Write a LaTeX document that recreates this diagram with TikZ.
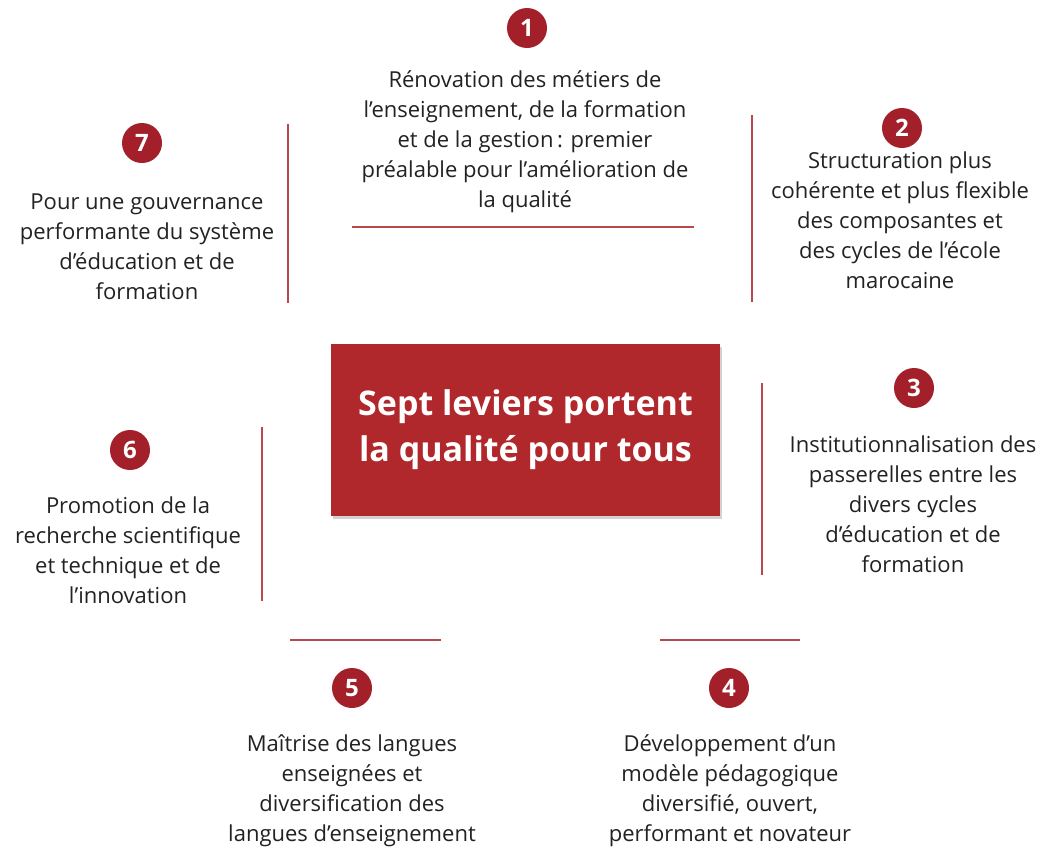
\documentclass[tikz,border=0pt]{standalone}
\usepackage{fontspec}
\setmainfont{Open Sans}
\usetikzlibrary{shadows}
\definecolor{lred}{HTML}{B0282C}
\definecolor{cred}{HTML}{A3202A}
\definecolor{linered}{HTML}{B8484C}
\definecolor{txt}{HTML}{222222}
\tikzset{
  num/.style={circle,fill=cred,text=white,minimum size=40pt,inner sep=0pt,font=\fontsize{24}{24}\selectfont\bfseries},
  lever/.style={align=center,text=txt,inner sep=0pt,font=\fontsize{22}{30}\selectfont},
  sep/.style={draw=linered,line width=1.6pt},
  core/.style={fill=lred,text=white,minimum width=389pt,minimum height=172pt,align=center,
    font=\fontsize{34}{46}\selectfont\bfseries,drop shadow={opacity=0.35,shadow xshift=2pt,shadow yshift=-3pt}}
}
\begin{document}
\begin{tikzpicture}[x=1pt,y=-1pt]
\useasboundingbox (0,0) rectangle (1048,849);
\fill[white] (0,0) rectangle (1048,849);
\node[core] (c) at (525.5,430) {Sept leviers portent\\la qualité pour tous};

\node[num] (n1) at (527,28) {1};
\node[lever] (t1) at (525,142) {Rénovation des métiers de\\l’enseignement, de la formation\\et de la gestion\,: premier\\préalable pour l’amélioration de\\la qualité};
\draw[sep] (352,227) coordinate (s1a) -- (694,227) coordinate (s1b);

\node[num] (n2) at (902,128) {2};
\node[lever] (t2) at (900,220) {Structuration plus\\cohérente et plus flexible\\des composantes et\\des cycles de l’école\\marocaine};
\draw[sep] (752,115) coordinate (s2a) -- (752,302) coordinate (s2b);

\node[num] (n3) at (914,388) {3};
\node[lever] (t3) at (913,504) {Institutionnalisation des\\passerelles entre les\\divers cycles\\d’éducation et de\\formation};
\draw[sep] (762,383) coordinate (s3a) -- (762,575) coordinate (s3b);

\node[num] (n4) at (729,688) {4};
\node[lever] (t4) at (730,791) {Développement d’un\\modèle pédagogique\\diversifié, ouvert,\\performant et novateur};
\draw[sep] (660,640) coordinate (s4a) -- (800,640) coordinate (s4b);

\node[num] (n5) at (352,688) {5};
\node[lever] (t5) at (352,791) {Maîtrise des langues\\enseignées et\\diversification des\\langues d’enseignement};
\draw[sep] (290,640) coordinate (s5a) -- (441,640) coordinate (s5b);

\node[num] (n6) at (130,450) {6};
\node[lever] (t6) at (128,550) {Promotion de la\\recherche scientifique\\et technique et de\\l’innovation};
\draw[sep] (262,427) coordinate (s6a) -- (262,601) coordinate (s6b);

\node[num] (n7) at (142,143) {7};
\node[lever] (t7) at (147,247) {Pour une gouvernance\\performante du système\\d’éducation et de\\formation};
\draw[sep] (288,124) coordinate (s7a) -- (288,303) coordinate (s7b);
\end{tikzpicture}
\end{document}
